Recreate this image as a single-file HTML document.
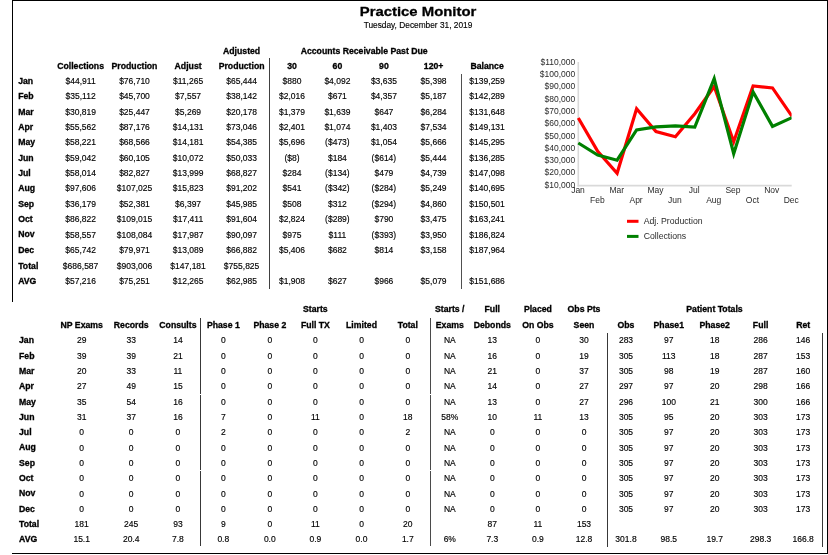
<!DOCTYPE html>
<html><head><meta charset="utf-8"><title>Practice Monitor</title>
<style>
*{margin:0;padding:0;box-sizing:border-box}
html,body{width:828px;height:555px;background:#fff;overflow:hidden}
body{position:relative;font-family:"Liberation Sans",Arial,sans-serif;color:#000;-webkit-text-stroke:0.15px #000}
.d,.h,.m{position:absolute;white-space:nowrap;line-height:12.0px;height:12.0px}
.d{font-size:8.5px;text-align:center}
.h{font-size:8.7px;font-weight:bold;text-align:center;-webkit-text-stroke:0.3px #000}
.m{font-size:8.7px;font-weight:bold;-webkit-text-stroke:0.3px #000}
.ln{position:absolute}
.ti{position:absolute;left:317.8px;width:200px;text-align:center;white-space:nowrap;font-weight:bold}
.ct{font-family:"Liberation Sans",Arial,sans-serif;font-size:8.5px;fill:#2a2a2a}
.lg{font-family:"Liberation Sans",Arial,sans-serif;font-size:8.7px;fill:#2a2a2a}
</style></head>
<body>
<div class="ti" style="top:2.6px;font-size:13.4px;line-height:18px;transform:scaleX(1.111);-webkit-text-stroke:0.3px #000">Practice Monitor</div>
<div class="ti" style="top:18.9px;font-size:9.2px;line-height:12px;font-weight:normal;transform:scaleX(0.906)">Tuesday, December 31, 2019</div>
<div class="ln" style="left:12px;top:0px;width:816px;height:1px;background:#000"></div><div class="ln" style="left:12px;top:0px;width:1px;height:302px;background:#000"></div><div class="ln" style="left:827px;top:0px;width:1px;height:554px;background:#000"></div><div class="ln" style="left:12px;top:553px;width:816px;height:1px;background:#000"></div><div class="ln" style="left:269px;top:58px;width:1px;height:230.5px;background:#404040"></div><div class="ln" style="left:461px;top:74px;width:1px;height:214.5px;background:#505050"></div><div class="ln" style="left:200px;top:318px;width:1px;height:76px;background:#383838"></div><div class="ln" style="left:200px;top:395px;width:1px;height:75px;background:#383838"></div><div class="ln" style="left:200px;top:471px;width:1px;height:75px;background:#383838"></div><div class="ln" style="left:430px;top:318px;width:1px;height:76px;background:#4a4a4a"></div><div class="ln" style="left:430px;top:395px;width:1px;height:75px;background:#4a4a4a"></div><div class="ln" style="left:430px;top:471px;width:1px;height:75px;background:#4a4a4a"></div><div class="ln" style="left:607px;top:333px;width:1px;height:213.5px;background:#383838"></div><div class="ln" style="left:822px;top:333px;width:1px;height:213.5px;background:#383838"></div>
<svg width="828" height="555" style="position:absolute;left:0;top:0"><line x1="578.3" y1="62" x2="578.3" y2="186.6" stroke="#d9d9d9" stroke-width="1.6"/><line x1="577.5" y1="185.6" x2="791.7" y2="185.6" stroke="#d9d9d9" stroke-width="1.6"/><text x="575.3" y="64.7" text-anchor="end" class="ct">$110,000</text><text x="575.3" y="77.0" text-anchor="end" class="ct">$100,000</text><text x="575.3" y="89.2" text-anchor="end" class="ct">$90,000</text><text x="575.3" y="101.6" text-anchor="end" class="ct">$80,000</text><text x="575.3" y="113.9" text-anchor="end" class="ct">$70,000</text><text x="575.3" y="126.2" text-anchor="end" class="ct">$60,000</text><text x="575.3" y="138.5" text-anchor="end" class="ct">$50,000</text><text x="575.3" y="150.8" text-anchor="end" class="ct">$40,000</text><text x="575.3" y="163.1" text-anchor="end" class="ct">$30,000</text><text x="575.3" y="175.3" text-anchor="end" class="ct">$20,000</text><text x="575.3" y="187.7" text-anchor="end" class="ct">$10,000</text><text x="578.0" y="193.3" text-anchor="middle" class="ct">Jan</text><text x="597.4" y="202.9" text-anchor="middle" class="ct">Feb</text><text x="616.8" y="193.3" text-anchor="middle" class="ct">Mar</text><text x="636.1" y="202.9" text-anchor="middle" class="ct">Apr</text><text x="655.5" y="193.3" text-anchor="middle" class="ct">May</text><text x="674.9" y="202.9" text-anchor="middle" class="ct">Jun</text><text x="694.3" y="193.3" text-anchor="middle" class="ct">Jul</text><text x="713.7" y="202.9" text-anchor="middle" class="ct">Aug</text><text x="733.0" y="193.3" text-anchor="middle" class="ct">Sep</text><text x="752.4" y="202.9" text-anchor="middle" class="ct">Oct</text><text x="771.8" y="193.3" text-anchor="middle" class="ct">Nov</text><text x="791.2" y="202.9" text-anchor="middle" class="ct">Dec</text><defs><clipPath id="pc"><rect x="570" y="40" width="221.6" height="160"/></clipPath></defs><g clip-path="url(#pc)"><polyline points="578.3,118.0 597.7,151.3 617.1,173.2 636.6,108.7 656.0,131.5 675.4,136.8 694.8,113.8 714.2,86.5 733.7,141.7 753.1,86.0 772.5,87.9 791.9,116.2" fill="none" stroke="#ff0000" stroke-width="3.2" stroke-linejoin="miter" stroke-miterlimit="10"/><polyline points="578.3,143.0 597.7,155.0 617.1,160.2 636.6,130.0 656.0,126.8 675.4,125.8 694.8,127.0 714.2,78.7 733.7,153.7 753.1,91.9 772.5,126.4 791.9,117.6" fill="none" stroke="#008000" stroke-width="3.2" stroke-linejoin="miter" stroke-miterlimit="10"/></g><rect x="627" y="219.8" width="11.5" height="3" fill="#ff0000"/><rect x="627" y="234.9" width="11.5" height="3" fill="#008000"/><text x="643.7" y="224.1" class="lg">Adj. Production</text><text x="643.7" y="238.8" class="lg">Collections</text></svg>
<div class="h" style="left:201.6px;top:44.9px;width:80px">Adjusted</div>
<div class="h" style="left:264.2px;top:44.9px;width:200px">Accounts Receivable Past Due</div>
<div class="h" style="left:40.6px;top:60.0px;width:80px">Collections</div>
<div class="h" style="left:94.5px;top:60.0px;width:80px">Production</div>
<div class="h" style="left:148.1px;top:60.0px;width:80px">Adjust</div>
<div class="h" style="left:201.6px;top:60.0px;width:80px">Production</div>
<div class="h" style="left:252.0px;top:60.0px;width:80px">30</div>
<div class="h" style="left:297.4px;top:60.0px;width:80px">60</div>
<div class="h" style="left:343.9px;top:60.0px;width:80px">90</div>
<div class="h" style="left:393.6px;top:60.0px;width:80px">120+</div>
<div class="h" style="left:447.1px;top:60.0px;width:80px">Balance</div>
<div class="m" style="left:18.2px;top:74.9px">Jan</div>
<div class="d" style="left:40.6px;top:75.0px;width:80px">$44,911</div>
<div class="d" style="left:94.5px;top:75.0px;width:80px">$76,710</div>
<div class="d" style="left:148.1px;top:75.0px;width:80px">$11,265</div>
<div class="d" style="left:201.6px;top:75.0px;width:80px">$65,444</div>
<div class="d" style="left:252.0px;top:75.0px;width:80px">$880</div>
<div class="d" style="left:297.4px;top:75.0px;width:80px">$4,092</div>
<div class="d" style="left:343.9px;top:75.0px;width:80px">$3,635</div>
<div class="d" style="left:393.6px;top:75.0px;width:80px">$5,398</div>
<div class="d" style="left:447.1px;top:75.0px;width:80px">$139,259</div>
<div class="m" style="left:18.2px;top:90.2px">Feb</div>
<div class="d" style="left:40.6px;top:90.3px;width:80px">$35,112</div>
<div class="d" style="left:94.5px;top:90.3px;width:80px">$45,700</div>
<div class="d" style="left:148.1px;top:90.3px;width:80px">$7,557</div>
<div class="d" style="left:201.6px;top:90.3px;width:80px">$38,142</div>
<div class="d" style="left:252.0px;top:90.3px;width:80px">$2,016</div>
<div class="d" style="left:297.4px;top:90.3px;width:80px">$671</div>
<div class="d" style="left:343.9px;top:90.3px;width:80px">$4,357</div>
<div class="d" style="left:393.6px;top:90.3px;width:80px">$5,187</div>
<div class="d" style="left:447.1px;top:90.3px;width:80px">$142,289</div>
<div class="m" style="left:18.2px;top:105.6px">Mar</div>
<div class="d" style="left:40.6px;top:105.7px;width:80px">$30,819</div>
<div class="d" style="left:94.5px;top:105.7px;width:80px">$25,447</div>
<div class="d" style="left:148.1px;top:105.7px;width:80px">$5,269</div>
<div class="d" style="left:201.6px;top:105.7px;width:80px">$20,178</div>
<div class="d" style="left:252.0px;top:105.7px;width:80px">$1,379</div>
<div class="d" style="left:297.4px;top:105.7px;width:80px">$1,639</div>
<div class="d" style="left:343.9px;top:105.7px;width:80px">$647</div>
<div class="d" style="left:393.6px;top:105.7px;width:80px">$6,284</div>
<div class="d" style="left:447.1px;top:105.7px;width:80px">$131,648</div>
<div class="m" style="left:18.2px;top:120.9px">Apr</div>
<div class="d" style="left:40.6px;top:121.0px;width:80px">$55,562</div>
<div class="d" style="left:94.5px;top:121.0px;width:80px">$87,176</div>
<div class="d" style="left:148.1px;top:121.0px;width:80px">$14,131</div>
<div class="d" style="left:201.6px;top:121.0px;width:80px">$73,046</div>
<div class="d" style="left:252.0px;top:121.0px;width:80px">$2,401</div>
<div class="d" style="left:297.4px;top:121.0px;width:80px">$1,074</div>
<div class="d" style="left:343.9px;top:121.0px;width:80px">$1,403</div>
<div class="d" style="left:393.6px;top:121.0px;width:80px">$7,534</div>
<div class="d" style="left:447.1px;top:121.0px;width:80px">$149,131</div>
<div class="m" style="left:18.2px;top:136.3px">May</div>
<div class="d" style="left:40.6px;top:136.4px;width:80px">$58,221</div>
<div class="d" style="left:94.5px;top:136.4px;width:80px">$68,566</div>
<div class="d" style="left:148.1px;top:136.4px;width:80px">$14,181</div>
<div class="d" style="left:201.6px;top:136.4px;width:80px">$54,385</div>
<div class="d" style="left:252.0px;top:136.4px;width:80px">$5,696</div>
<div class="d" style="left:297.4px;top:136.4px;width:80px">($473)</div>
<div class="d" style="left:343.9px;top:136.4px;width:80px">$1,054</div>
<div class="d" style="left:393.6px;top:136.4px;width:80px">$5,666</div>
<div class="d" style="left:447.1px;top:136.4px;width:80px">$145,295</div>
<div class="m" style="left:18.2px;top:151.6px">Jun</div>
<div class="d" style="left:40.6px;top:151.7px;width:80px">$59,042</div>
<div class="d" style="left:94.5px;top:151.7px;width:80px">$60,105</div>
<div class="d" style="left:148.1px;top:151.7px;width:80px">$10,072</div>
<div class="d" style="left:201.6px;top:151.7px;width:80px">$50,033</div>
<div class="d" style="left:252.0px;top:151.7px;width:80px">($8)</div>
<div class="d" style="left:297.4px;top:151.7px;width:80px">$184</div>
<div class="d" style="left:343.9px;top:151.7px;width:80px">($614)</div>
<div class="d" style="left:393.6px;top:151.7px;width:80px">$5,444</div>
<div class="d" style="left:447.1px;top:151.7px;width:80px">$136,285</div>
<div class="m" style="left:18.2px;top:167.0px">Jul</div>
<div class="d" style="left:40.6px;top:167.1px;width:80px">$58,014</div>
<div class="d" style="left:94.5px;top:167.1px;width:80px">$82,827</div>
<div class="d" style="left:148.1px;top:167.1px;width:80px">$13,999</div>
<div class="d" style="left:201.6px;top:167.1px;width:80px">$68,827</div>
<div class="d" style="left:252.0px;top:167.1px;width:80px">$284</div>
<div class="d" style="left:297.4px;top:167.1px;width:80px">($134)</div>
<div class="d" style="left:343.9px;top:167.1px;width:80px">$479</div>
<div class="d" style="left:393.6px;top:167.1px;width:80px">$4,739</div>
<div class="d" style="left:447.1px;top:167.1px;width:80px">$147,098</div>
<div class="m" style="left:18.2px;top:182.3px">Aug</div>
<div class="d" style="left:40.6px;top:182.4px;width:80px">$97,606</div>
<div class="d" style="left:94.5px;top:182.4px;width:80px">$107,025</div>
<div class="d" style="left:148.1px;top:182.4px;width:80px">$15,823</div>
<div class="d" style="left:201.6px;top:182.4px;width:80px">$91,202</div>
<div class="d" style="left:252.0px;top:182.4px;width:80px">$541</div>
<div class="d" style="left:297.4px;top:182.4px;width:80px">($342)</div>
<div class="d" style="left:343.9px;top:182.4px;width:80px">($284)</div>
<div class="d" style="left:393.6px;top:182.4px;width:80px">$5,249</div>
<div class="d" style="left:447.1px;top:182.4px;width:80px">$140,695</div>
<div class="m" style="left:18.2px;top:197.7px">Sep</div>
<div class="d" style="left:40.6px;top:197.8px;width:80px">$36,179</div>
<div class="d" style="left:94.5px;top:197.8px;width:80px">$52,381</div>
<div class="d" style="left:148.1px;top:197.8px;width:80px">$6,397</div>
<div class="d" style="left:201.6px;top:197.8px;width:80px">$45,985</div>
<div class="d" style="left:252.0px;top:197.8px;width:80px">$508</div>
<div class="d" style="left:297.4px;top:197.8px;width:80px">$312</div>
<div class="d" style="left:343.9px;top:197.8px;width:80px">($294)</div>
<div class="d" style="left:393.6px;top:197.8px;width:80px">$4,860</div>
<div class="d" style="left:447.1px;top:197.8px;width:80px">$150,501</div>
<div class="m" style="left:18.2px;top:213.0px">Oct</div>
<div class="d" style="left:40.6px;top:213.1px;width:80px">$86,822</div>
<div class="d" style="left:94.5px;top:213.1px;width:80px">$109,015</div>
<div class="d" style="left:148.1px;top:213.1px;width:80px">$17,411</div>
<div class="d" style="left:201.6px;top:213.1px;width:80px">$91,604</div>
<div class="d" style="left:252.0px;top:213.1px;width:80px">$2,824</div>
<div class="d" style="left:297.4px;top:213.1px;width:80px">($289)</div>
<div class="d" style="left:343.9px;top:213.1px;width:80px">$790</div>
<div class="d" style="left:393.6px;top:213.1px;width:80px">$3,475</div>
<div class="d" style="left:447.1px;top:213.1px;width:80px">$163,241</div>
<div class="m" style="left:18.2px;top:228.4px">Nov</div>
<div class="d" style="left:40.6px;top:228.5px;width:80px">$58,557</div>
<div class="d" style="left:94.5px;top:228.5px;width:80px">$108,084</div>
<div class="d" style="left:148.1px;top:228.5px;width:80px">$17,987</div>
<div class="d" style="left:201.6px;top:228.5px;width:80px">$90,097</div>
<div class="d" style="left:252.0px;top:228.5px;width:80px">$975</div>
<div class="d" style="left:297.4px;top:228.5px;width:80px">$111</div>
<div class="d" style="left:343.9px;top:228.5px;width:80px">($393)</div>
<div class="d" style="left:393.6px;top:228.5px;width:80px">$3,950</div>
<div class="d" style="left:447.1px;top:228.5px;width:80px">$186,824</div>
<div class="m" style="left:18.2px;top:243.7px">Dec</div>
<div class="d" style="left:40.6px;top:243.8px;width:80px">$65,742</div>
<div class="d" style="left:94.5px;top:243.8px;width:80px">$79,971</div>
<div class="d" style="left:148.1px;top:243.8px;width:80px">$13,089</div>
<div class="d" style="left:201.6px;top:243.8px;width:80px">$66,882</div>
<div class="d" style="left:252.0px;top:243.8px;width:80px">$5,406</div>
<div class="d" style="left:297.4px;top:243.8px;width:80px">$682</div>
<div class="d" style="left:343.9px;top:243.8px;width:80px">$814</div>
<div class="d" style="left:393.6px;top:243.8px;width:80px">$3,158</div>
<div class="d" style="left:447.1px;top:243.8px;width:80px">$187,964</div>
<div class="m" style="left:18.2px;top:259.6px">Total</div>
<div class="d" style="left:40.6px;top:259.7px;width:80px">$686,587</div>
<div class="d" style="left:94.5px;top:259.7px;width:80px">$903,006</div>
<div class="d" style="left:148.1px;top:259.7px;width:80px">$147,181</div>
<div class="d" style="left:201.6px;top:259.7px;width:80px">$755,825</div>
<div class="m" style="left:18.2px;top:274.8px">AVG</div>
<div class="d" style="left:40.6px;top:274.9px;width:80px">$57,216</div>
<div class="d" style="left:94.5px;top:274.9px;width:80px">$75,251</div>
<div class="d" style="left:148.1px;top:274.9px;width:80px">$12,265</div>
<div class="d" style="left:201.6px;top:274.9px;width:80px">$62,985</div>
<div class="d" style="left:252.0px;top:274.9px;width:80px">$1,908</div>
<div class="d" style="left:297.4px;top:274.9px;width:80px">$627</div>
<div class="d" style="left:343.9px;top:274.9px;width:80px">$966</div>
<div class="d" style="left:393.6px;top:274.9px;width:80px">$5,079</div>
<div class="d" style="left:447.1px;top:274.9px;width:80px">$151,686</div>
<div class="h" style="left:275.4px;top:303.4px;width:80px">Starts</div>
<div class="h" style="left:409.8px;top:303.4px;width:80px">Starts /</div>
<div class="h" style="left:452.3px;top:303.4px;width:80px">Full</div>
<div class="h" style="left:497.9px;top:303.4px;width:80px">Placed</div>
<div class="h" style="left:544.0px;top:303.4px;width:80px">Obs Pts</div>
<div class="h" style="left:654.5px;top:303.4px;width:120px">Patient Totals</div>
<div class="h" style="left:41.7px;top:318.6px;width:80px">NP Exams</div>
<div class="h" style="left:91.2px;top:318.6px;width:80px">Records</div>
<div class="h" style="left:137.9px;top:318.6px;width:80px">Consults</div>
<div class="h" style="left:183.3px;top:318.6px;width:80px">Phase 1</div>
<div class="h" style="left:229.8px;top:318.6px;width:80px">Phase 2</div>
<div class="h" style="left:275.4px;top:318.6px;width:80px">Full TX</div>
<div class="h" style="left:321.5px;top:318.6px;width:80px">Limited</div>
<div class="h" style="left:367.8px;top:318.6px;width:80px">Total</div>
<div class="h" style="left:409.8px;top:318.6px;width:80px">Exams</div>
<div class="h" style="left:452.3px;top:318.6px;width:80px">Debonds</div>
<div class="h" style="left:497.9px;top:318.6px;width:80px">On Obs</div>
<div class="h" style="left:544.0px;top:318.6px;width:80px">Seen</div>
<div class="h" style="left:586.0px;top:318.6px;width:80px">Obs</div>
<div class="h" style="left:628.8px;top:318.6px;width:80px">Phase1</div>
<div class="h" style="left:674.7px;top:318.6px;width:80px">Phase2</div>
<div class="h" style="left:720.6px;top:318.6px;width:80px">Full</div>
<div class="h" style="left:763.2px;top:318.6px;width:80px">Ret</div>
<div class="m" style="left:19.0px;top:334.2px">Jan</div>
<div class="d" style="left:41.7px;top:334.3px;width:80px">29</div>
<div class="d" style="left:91.2px;top:334.3px;width:80px">33</div>
<div class="d" style="left:137.9px;top:334.3px;width:80px">14</div>
<div class="d" style="left:183.3px;top:334.3px;width:80px">0</div>
<div class="d" style="left:229.8px;top:334.3px;width:80px">0</div>
<div class="d" style="left:275.4px;top:334.3px;width:80px">0</div>
<div class="d" style="left:321.5px;top:334.3px;width:80px">0</div>
<div class="d" style="left:367.8px;top:334.3px;width:80px">0</div>
<div class="d" style="left:409.8px;top:334.3px;width:80px">NA</div>
<div class="d" style="left:452.3px;top:334.3px;width:80px">13</div>
<div class="d" style="left:497.9px;top:334.3px;width:80px">0</div>
<div class="d" style="left:544.0px;top:334.3px;width:80px">30</div>
<div class="d" style="left:586.0px;top:334.3px;width:80px">283</div>
<div class="d" style="left:628.8px;top:334.3px;width:80px">97</div>
<div class="d" style="left:674.7px;top:334.3px;width:80px">18</div>
<div class="d" style="left:720.6px;top:334.3px;width:80px">286</div>
<div class="d" style="left:763.2px;top:334.3px;width:80px">146</div>
<div class="m" style="left:19.0px;top:349.5px">Feb</div>
<div class="d" style="left:41.7px;top:349.6px;width:80px">39</div>
<div class="d" style="left:91.2px;top:349.6px;width:80px">39</div>
<div class="d" style="left:137.9px;top:349.6px;width:80px">21</div>
<div class="d" style="left:183.3px;top:349.6px;width:80px">0</div>
<div class="d" style="left:229.8px;top:349.6px;width:80px">0</div>
<div class="d" style="left:275.4px;top:349.6px;width:80px">0</div>
<div class="d" style="left:321.5px;top:349.6px;width:80px">0</div>
<div class="d" style="left:367.8px;top:349.6px;width:80px">0</div>
<div class="d" style="left:409.8px;top:349.6px;width:80px">NA</div>
<div class="d" style="left:452.3px;top:349.6px;width:80px">16</div>
<div class="d" style="left:497.9px;top:349.6px;width:80px">0</div>
<div class="d" style="left:544.0px;top:349.6px;width:80px">19</div>
<div class="d" style="left:586.0px;top:349.6px;width:80px">305</div>
<div class="d" style="left:628.8px;top:349.6px;width:80px">113</div>
<div class="d" style="left:674.7px;top:349.6px;width:80px">18</div>
<div class="d" style="left:720.6px;top:349.6px;width:80px">287</div>
<div class="d" style="left:763.2px;top:349.6px;width:80px">153</div>
<div class="m" style="left:19.0px;top:364.8px">Mar</div>
<div class="d" style="left:41.7px;top:364.9px;width:80px">20</div>
<div class="d" style="left:91.2px;top:364.9px;width:80px">33</div>
<div class="d" style="left:137.9px;top:364.9px;width:80px">11</div>
<div class="d" style="left:183.3px;top:364.9px;width:80px">0</div>
<div class="d" style="left:229.8px;top:364.9px;width:80px">0</div>
<div class="d" style="left:275.4px;top:364.9px;width:80px">0</div>
<div class="d" style="left:321.5px;top:364.9px;width:80px">0</div>
<div class="d" style="left:367.8px;top:364.9px;width:80px">0</div>
<div class="d" style="left:409.8px;top:364.9px;width:80px">NA</div>
<div class="d" style="left:452.3px;top:364.9px;width:80px">21</div>
<div class="d" style="left:497.9px;top:364.9px;width:80px">0</div>
<div class="d" style="left:544.0px;top:364.9px;width:80px">37</div>
<div class="d" style="left:586.0px;top:364.9px;width:80px">305</div>
<div class="d" style="left:628.8px;top:364.9px;width:80px">98</div>
<div class="d" style="left:674.7px;top:364.9px;width:80px">19</div>
<div class="d" style="left:720.6px;top:364.9px;width:80px">287</div>
<div class="d" style="left:763.2px;top:364.9px;width:80px">160</div>
<div class="m" style="left:19.0px;top:380.1px">Apr</div>
<div class="d" style="left:41.7px;top:380.2px;width:80px">27</div>
<div class="d" style="left:91.2px;top:380.2px;width:80px">49</div>
<div class="d" style="left:137.9px;top:380.2px;width:80px">15</div>
<div class="d" style="left:183.3px;top:380.2px;width:80px">0</div>
<div class="d" style="left:229.8px;top:380.2px;width:80px">0</div>
<div class="d" style="left:275.4px;top:380.2px;width:80px">0</div>
<div class="d" style="left:321.5px;top:380.2px;width:80px">0</div>
<div class="d" style="left:367.8px;top:380.2px;width:80px">0</div>
<div class="d" style="left:409.8px;top:380.2px;width:80px">NA</div>
<div class="d" style="left:452.3px;top:380.2px;width:80px">14</div>
<div class="d" style="left:497.9px;top:380.2px;width:80px">0</div>
<div class="d" style="left:544.0px;top:380.2px;width:80px">27</div>
<div class="d" style="left:586.0px;top:380.2px;width:80px">297</div>
<div class="d" style="left:628.8px;top:380.2px;width:80px">97</div>
<div class="d" style="left:674.7px;top:380.2px;width:80px">20</div>
<div class="d" style="left:720.6px;top:380.2px;width:80px">298</div>
<div class="d" style="left:763.2px;top:380.2px;width:80px">166</div>
<div class="m" style="left:19.0px;top:395.5px">May</div>
<div class="d" style="left:41.7px;top:395.5px;width:80px">35</div>
<div class="d" style="left:91.2px;top:395.5px;width:80px">54</div>
<div class="d" style="left:137.9px;top:395.5px;width:80px">16</div>
<div class="d" style="left:183.3px;top:395.5px;width:80px">0</div>
<div class="d" style="left:229.8px;top:395.5px;width:80px">0</div>
<div class="d" style="left:275.4px;top:395.5px;width:80px">0</div>
<div class="d" style="left:321.5px;top:395.5px;width:80px">0</div>
<div class="d" style="left:367.8px;top:395.5px;width:80px">0</div>
<div class="d" style="left:409.8px;top:395.5px;width:80px">NA</div>
<div class="d" style="left:452.3px;top:395.5px;width:80px">13</div>
<div class="d" style="left:497.9px;top:395.5px;width:80px">0</div>
<div class="d" style="left:544.0px;top:395.5px;width:80px">27</div>
<div class="d" style="left:586.0px;top:395.5px;width:80px">296</div>
<div class="d" style="left:628.8px;top:395.5px;width:80px">100</div>
<div class="d" style="left:674.7px;top:395.5px;width:80px">21</div>
<div class="d" style="left:720.6px;top:395.5px;width:80px">300</div>
<div class="d" style="left:763.2px;top:395.5px;width:80px">166</div>
<div class="m" style="left:19.0px;top:410.8px">Jun</div>
<div class="d" style="left:41.7px;top:410.9px;width:80px">31</div>
<div class="d" style="left:91.2px;top:410.9px;width:80px">37</div>
<div class="d" style="left:137.9px;top:410.9px;width:80px">16</div>
<div class="d" style="left:183.3px;top:410.9px;width:80px">7</div>
<div class="d" style="left:229.8px;top:410.9px;width:80px">0</div>
<div class="d" style="left:275.4px;top:410.9px;width:80px">11</div>
<div class="d" style="left:321.5px;top:410.9px;width:80px">0</div>
<div class="d" style="left:367.8px;top:410.9px;width:80px">18</div>
<div class="d" style="left:409.8px;top:410.9px;width:80px">58%</div>
<div class="d" style="left:452.3px;top:410.9px;width:80px">10</div>
<div class="d" style="left:497.9px;top:410.9px;width:80px">11</div>
<div class="d" style="left:544.0px;top:410.9px;width:80px">13</div>
<div class="d" style="left:586.0px;top:410.9px;width:80px">305</div>
<div class="d" style="left:628.8px;top:410.9px;width:80px">95</div>
<div class="d" style="left:674.7px;top:410.9px;width:80px">20</div>
<div class="d" style="left:720.6px;top:410.9px;width:80px">303</div>
<div class="d" style="left:763.2px;top:410.9px;width:80px">173</div>
<div class="m" style="left:19.0px;top:426.1px">Jul</div>
<div class="d" style="left:41.7px;top:426.2px;width:80px">0</div>
<div class="d" style="left:91.2px;top:426.2px;width:80px">0</div>
<div class="d" style="left:137.9px;top:426.2px;width:80px">0</div>
<div class="d" style="left:183.3px;top:426.2px;width:80px">2</div>
<div class="d" style="left:229.8px;top:426.2px;width:80px">0</div>
<div class="d" style="left:275.4px;top:426.2px;width:80px">0</div>
<div class="d" style="left:321.5px;top:426.2px;width:80px">0</div>
<div class="d" style="left:367.8px;top:426.2px;width:80px">2</div>
<div class="d" style="left:409.8px;top:426.2px;width:80px">NA</div>
<div class="d" style="left:452.3px;top:426.2px;width:80px">0</div>
<div class="d" style="left:497.9px;top:426.2px;width:80px">0</div>
<div class="d" style="left:544.0px;top:426.2px;width:80px">0</div>
<div class="d" style="left:586.0px;top:426.2px;width:80px">305</div>
<div class="d" style="left:628.8px;top:426.2px;width:80px">97</div>
<div class="d" style="left:674.7px;top:426.2px;width:80px">20</div>
<div class="d" style="left:720.6px;top:426.2px;width:80px">303</div>
<div class="d" style="left:763.2px;top:426.2px;width:80px">173</div>
<div class="m" style="left:19.0px;top:441.4px">Aug</div>
<div class="d" style="left:41.7px;top:441.5px;width:80px">0</div>
<div class="d" style="left:91.2px;top:441.5px;width:80px">0</div>
<div class="d" style="left:137.9px;top:441.5px;width:80px">0</div>
<div class="d" style="left:183.3px;top:441.5px;width:80px">0</div>
<div class="d" style="left:229.8px;top:441.5px;width:80px">0</div>
<div class="d" style="left:275.4px;top:441.5px;width:80px">0</div>
<div class="d" style="left:321.5px;top:441.5px;width:80px">0</div>
<div class="d" style="left:367.8px;top:441.5px;width:80px">0</div>
<div class="d" style="left:409.8px;top:441.5px;width:80px">NA</div>
<div class="d" style="left:452.3px;top:441.5px;width:80px">0</div>
<div class="d" style="left:497.9px;top:441.5px;width:80px">0</div>
<div class="d" style="left:544.0px;top:441.5px;width:80px">0</div>
<div class="d" style="left:586.0px;top:441.5px;width:80px">305</div>
<div class="d" style="left:628.8px;top:441.5px;width:80px">97</div>
<div class="d" style="left:674.7px;top:441.5px;width:80px">20</div>
<div class="d" style="left:720.6px;top:441.5px;width:80px">303</div>
<div class="d" style="left:763.2px;top:441.5px;width:80px">173</div>
<div class="m" style="left:19.0px;top:456.7px">Sep</div>
<div class="d" style="left:41.7px;top:456.8px;width:80px">0</div>
<div class="d" style="left:91.2px;top:456.8px;width:80px">0</div>
<div class="d" style="left:137.9px;top:456.8px;width:80px">0</div>
<div class="d" style="left:183.3px;top:456.8px;width:80px">0</div>
<div class="d" style="left:229.8px;top:456.8px;width:80px">0</div>
<div class="d" style="left:275.4px;top:456.8px;width:80px">0</div>
<div class="d" style="left:321.5px;top:456.8px;width:80px">0</div>
<div class="d" style="left:367.8px;top:456.8px;width:80px">0</div>
<div class="d" style="left:409.8px;top:456.8px;width:80px">NA</div>
<div class="d" style="left:452.3px;top:456.8px;width:80px">0</div>
<div class="d" style="left:497.9px;top:456.8px;width:80px">0</div>
<div class="d" style="left:544.0px;top:456.8px;width:80px">0</div>
<div class="d" style="left:586.0px;top:456.8px;width:80px">305</div>
<div class="d" style="left:628.8px;top:456.8px;width:80px">97</div>
<div class="d" style="left:674.7px;top:456.8px;width:80px">20</div>
<div class="d" style="left:720.6px;top:456.8px;width:80px">303</div>
<div class="d" style="left:763.2px;top:456.8px;width:80px">173</div>
<div class="m" style="left:19.0px;top:472.1px">Oct</div>
<div class="d" style="left:41.7px;top:472.1px;width:80px">0</div>
<div class="d" style="left:91.2px;top:472.1px;width:80px">0</div>
<div class="d" style="left:137.9px;top:472.1px;width:80px">0</div>
<div class="d" style="left:183.3px;top:472.1px;width:80px">0</div>
<div class="d" style="left:229.8px;top:472.1px;width:80px">0</div>
<div class="d" style="left:275.4px;top:472.1px;width:80px">0</div>
<div class="d" style="left:321.5px;top:472.1px;width:80px">0</div>
<div class="d" style="left:367.8px;top:472.1px;width:80px">0</div>
<div class="d" style="left:409.8px;top:472.1px;width:80px">NA</div>
<div class="d" style="left:452.3px;top:472.1px;width:80px">0</div>
<div class="d" style="left:497.9px;top:472.1px;width:80px">0</div>
<div class="d" style="left:544.0px;top:472.1px;width:80px">0</div>
<div class="d" style="left:586.0px;top:472.1px;width:80px">305</div>
<div class="d" style="left:628.8px;top:472.1px;width:80px">97</div>
<div class="d" style="left:674.7px;top:472.1px;width:80px">20</div>
<div class="d" style="left:720.6px;top:472.1px;width:80px">303</div>
<div class="d" style="left:763.2px;top:472.1px;width:80px">173</div>
<div class="m" style="left:19.0px;top:487.4px">Nov</div>
<div class="d" style="left:41.7px;top:487.5px;width:80px">0</div>
<div class="d" style="left:91.2px;top:487.5px;width:80px">0</div>
<div class="d" style="left:137.9px;top:487.5px;width:80px">0</div>
<div class="d" style="left:183.3px;top:487.5px;width:80px">0</div>
<div class="d" style="left:229.8px;top:487.5px;width:80px">0</div>
<div class="d" style="left:275.4px;top:487.5px;width:80px">0</div>
<div class="d" style="left:321.5px;top:487.5px;width:80px">0</div>
<div class="d" style="left:367.8px;top:487.5px;width:80px">0</div>
<div class="d" style="left:409.8px;top:487.5px;width:80px">NA</div>
<div class="d" style="left:452.3px;top:487.5px;width:80px">0</div>
<div class="d" style="left:497.9px;top:487.5px;width:80px">0</div>
<div class="d" style="left:544.0px;top:487.5px;width:80px">0</div>
<div class="d" style="left:586.0px;top:487.5px;width:80px">305</div>
<div class="d" style="left:628.8px;top:487.5px;width:80px">97</div>
<div class="d" style="left:674.7px;top:487.5px;width:80px">20</div>
<div class="d" style="left:720.6px;top:487.5px;width:80px">303</div>
<div class="d" style="left:763.2px;top:487.5px;width:80px">173</div>
<div class="m" style="left:19.0px;top:502.7px">Dec</div>
<div class="d" style="left:41.7px;top:502.8px;width:80px">0</div>
<div class="d" style="left:91.2px;top:502.8px;width:80px">0</div>
<div class="d" style="left:137.9px;top:502.8px;width:80px">0</div>
<div class="d" style="left:183.3px;top:502.8px;width:80px">0</div>
<div class="d" style="left:229.8px;top:502.8px;width:80px">0</div>
<div class="d" style="left:275.4px;top:502.8px;width:80px">0</div>
<div class="d" style="left:321.5px;top:502.8px;width:80px">0</div>
<div class="d" style="left:367.8px;top:502.8px;width:80px">0</div>
<div class="d" style="left:409.8px;top:502.8px;width:80px">NA</div>
<div class="d" style="left:452.3px;top:502.8px;width:80px">0</div>
<div class="d" style="left:497.9px;top:502.8px;width:80px">0</div>
<div class="d" style="left:544.0px;top:502.8px;width:80px">0</div>
<div class="d" style="left:586.0px;top:502.8px;width:80px">305</div>
<div class="d" style="left:628.8px;top:502.8px;width:80px">97</div>
<div class="d" style="left:674.7px;top:502.8px;width:80px">20</div>
<div class="d" style="left:720.6px;top:502.8px;width:80px">303</div>
<div class="d" style="left:763.2px;top:502.8px;width:80px">173</div>
<div class="m" style="left:19.0px;top:518.0px">Total</div>
<div class="d" style="left:41.7px;top:518.1px;width:80px">181</div>
<div class="d" style="left:91.2px;top:518.1px;width:80px">245</div>
<div class="d" style="left:137.9px;top:518.1px;width:80px">93</div>
<div class="d" style="left:183.3px;top:518.1px;width:80px">9</div>
<div class="d" style="left:229.8px;top:518.1px;width:80px">0</div>
<div class="d" style="left:275.4px;top:518.1px;width:80px">11</div>
<div class="d" style="left:321.5px;top:518.1px;width:80px">0</div>
<div class="d" style="left:367.8px;top:518.1px;width:80px">20</div>
<div class="d" style="left:452.3px;top:518.1px;width:80px">87</div>
<div class="d" style="left:497.9px;top:518.1px;width:80px">11</div>
<div class="d" style="left:544.0px;top:518.1px;width:80px">153</div>
<div class="m" style="left:19.0px;top:533.1px">AVG</div>
<div class="d" style="left:41.7px;top:533.2px;width:80px">15.1</div>
<div class="d" style="left:91.2px;top:533.2px;width:80px">20.4</div>
<div class="d" style="left:137.9px;top:533.2px;width:80px">7.8</div>
<div class="d" style="left:183.3px;top:533.2px;width:80px">0.8</div>
<div class="d" style="left:229.8px;top:533.2px;width:80px">0.0</div>
<div class="d" style="left:275.4px;top:533.2px;width:80px">0.9</div>
<div class="d" style="left:321.5px;top:533.2px;width:80px">0.0</div>
<div class="d" style="left:367.8px;top:533.2px;width:80px">1.7</div>
<div class="d" style="left:409.8px;top:533.2px;width:80px">6%</div>
<div class="d" style="left:452.3px;top:533.2px;width:80px">7.3</div>
<div class="d" style="left:497.9px;top:533.2px;width:80px">0.9</div>
<div class="d" style="left:544.0px;top:533.2px;width:80px">12.8</div>
<div class="d" style="left:586.0px;top:533.2px;width:80px">301.8</div>
<div class="d" style="left:628.8px;top:533.2px;width:80px">98.5</div>
<div class="d" style="left:674.7px;top:533.2px;width:80px">19.7</div>
<div class="d" style="left:720.6px;top:533.2px;width:80px">298.3</div>
<div class="d" style="left:763.2px;top:533.2px;width:80px">166.8</div>
</body></html>
